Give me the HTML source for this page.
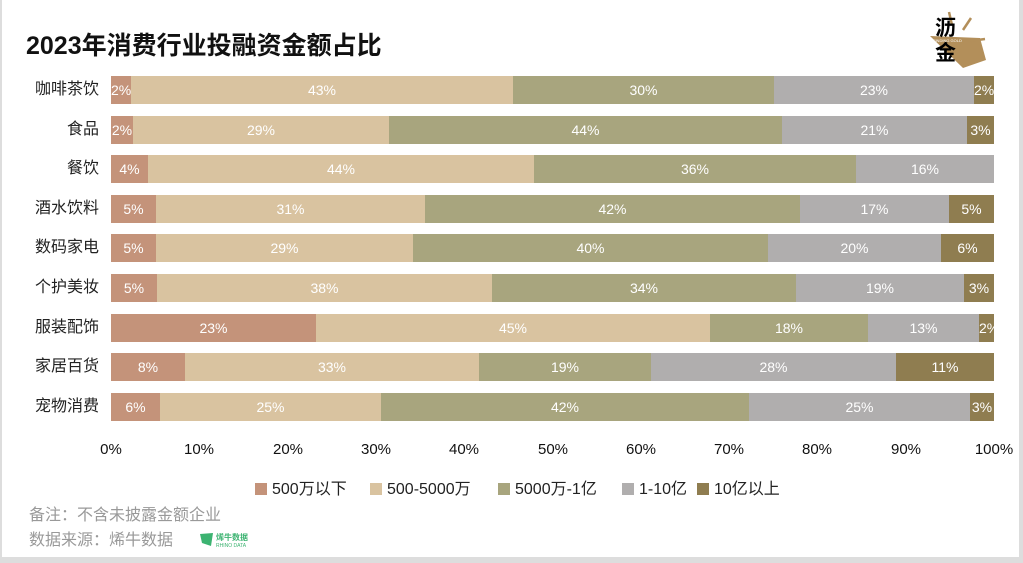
<!DOCTYPE html>
<html><head><meta charset="utf-8"><style>
body{margin:0;width:1023px;height:563px;background:#fff;position:relative;overflow:hidden;font-family:"Liberation Sans","Noto Sans CJK SC",sans-serif}
#frame{position:absolute;left:0;top:0;width:1017px;height:557px;border-left:2px solid #ddd;border-right:6px solid #ddd;border-bottom:6px solid #ddd;box-sizing:content-box}
.t{position:absolute;white-space:nowrap}
.seg{position:absolute;height:28px;color:#fff;font-size:14px;line-height:28px;text-align:center;overflow:hidden}
.lab{position:absolute;right:924px;font-size:16px;color:#222;line-height:20px}
.tick{position:absolute;top:441px;font-size:15px;color:#111;transform:translateX(-50%)}
.lg{position:absolute;top:481px;font-size:16px;color:#222;line-height:18px}
.sq{display:inline-block;width:12px;height:12px;margin-right:5px;vertical-align:-1px}
</style></head><body>
<div id="frame"></div>
<div class="t" style="left:26px;top:26px;font-size:25px;font-weight:bold;color:#111">2023年消费行业投融资金额占比</div>
<svg style="position:absolute;left:925px;top:8px" width="75" height="64">
<polygon points="5,28 55,30 61,52 38,60" fill="#b38f5a"/>
<line x1="24" y1="4" x2="27" y2="17" stroke="#b38f5a" stroke-width="2.5"/>
<line x1="46" y1="10" x2="38" y2="22" stroke="#b38f5a" stroke-width="2.5"/>
<line x1="45" y1="33" x2="60" y2="31" stroke="#b38f5a" stroke-width="2.5"/>
<text x="10" y="27" font-size="21" font-weight="bold" font-family="Noto Sans CJK SC">沥</text>
<text x="10" y="52" font-size="21" font-weight="bold" font-family="Noto Sans CJK SC">金</text>
<text x="8" y="34" font-size="4" fill="#fff">FINDING GOLD</text>
</svg>
<div id="bars"></div>
<div class="tick" style="left:111px">0%</div><div class="tick" style="left:199px">10%</div><div class="tick" style="left:288px">20%</div><div class="tick" style="left:376px">30%</div><div class="tick" style="left:464px">40%</div><div class="tick" style="left:553px">50%</div><div class="tick" style="left:641px">60%</div><div class="tick" style="left:729px">70%</div><div class="tick" style="left:817px">80%</div><div class="tick" style="left:906px">90%</div><div class="tick" style="left:994px">100%</div>
<div class="lg" style="left:255px"><span class="sq" style="background:#c4937a"></span>500万以下</div>
<div class="lg" style="left:370px"><span class="sq" style="background:#d9c3a0"></span>500-5000万</div>
<div class="lg" style="left:498px"><span class="sq" style="background:#a8a57e"></span>5000万-1亿</div>
<div class="lg" style="left:622px"><span class="sq" style="background:#b0aeae"></span>1-10亿</div>
<div class="lg" style="left:697px"><span class="sq" style="background:#8f7d50"></span>10亿以上</div>
<div class="t" style="left:29px;top:501px;font-size:16px;color:#999">备注：不含未披露金额企业</div>
<div class="t" style="left:29px;top:526px;font-size:16px;color:#999">数据来源：烯牛数据</div>
<svg style="position:absolute;left:199px;top:531px" width="60" height="18"><path d="M1,3 L14,2 L12,15 L3,12 Z" fill="#3cb371"/><text x="17" y="9" font-size="8" font-weight="bold" fill="#3cb371" font-family="Noto Sans CJK SC">烯牛数据</text><text x="17" y="16" font-size="5" fill="#3cb371">RHINO DATA</text></svg>
<script>
var C=["#c4937a","#d9c3a0","#a8a57e","#b0aeae","#8f7d50"];
var rows=[["咖啡茶饮",[111,131,513,774,974,994],["2%","43%","30%","23%","2%"]],
["食品",[111,133,389,782,967,994],["2%","29%","44%","21%","3%"]],
["餐饮",[111,148,534,856,994],["4%","44%","36%","16%"]],
["酒水饮料",[111,156,425,800,949,994],["5%","31%","42%","17%","5%"]],
["数码家电",[111,156,413,768,941,994],["5%","29%","40%","20%","6%"]],
["个护美妆",[111,157,492,796,964,994],["5%","38%","34%","19%","3%"]],
["服装配饰",[111,316,710,868,979,994],["23%","45%","18%","13%","2%"]],
["家居百货",[111,185,479,651,896,994],["8%","33%","19%","28%","11%"]],
["宠物消费",[111,160,381,749,970,994],["6%","25%","42%","25%","3%"]]];
var h="";
rows.forEach(function(r,i){var cy=90+i*39.6;var top=Math.round(cy-14);
h+='<div class="lab" style="top:'+Math.round(cy-10)+'px">'+r[0]+'</div>';
for(var j=0;j<r[2].length;j++){h+='<div class="seg" style="left:'+r[1][j]+'px;width:'+(r[1][j+1]-r[1][j])+'px;top:'+top+'px;background:'+C[j]+'">'+r[2][j]+'</div>';}});
document.getElementById("bars").innerHTML=h;
</script>
</body></html>
